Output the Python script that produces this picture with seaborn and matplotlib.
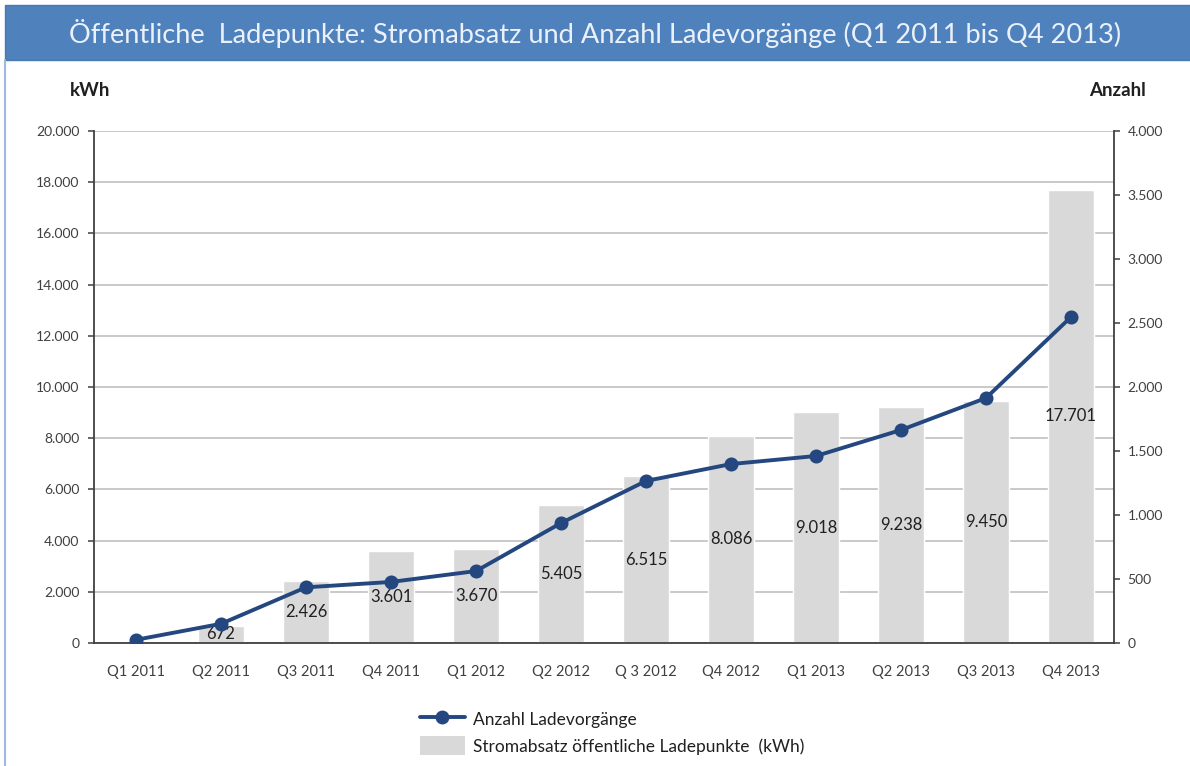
import matplotlib
matplotlib.use('Agg')
import matplotlib.pyplot as plt
import matplotlib.ticker as mticker
from matplotlib.patches import Rectangle
from matplotlib.lines import Line2D
import seaborn as sns
import pandas as pd

# data
quarters = ['Q1 2011', 'Q2 2011', 'Q3 2011', 'Q4 2011', 'Q1 2012', 'Q2 2012',
            'Q 3 2012', 'Q4 2012', 'Q1 2013', 'Q2 2013', 'Q3 2013', 'Q4 2013']
kwh = [0, 672, 2426, 3601, 3670, 5405, 6515, 8086, 9018, 9238, 9450, 17701]
ladevorgaenge = [25, 150, 435, 477, 562, 937, 1266, 1398, 1461, 1664, 1914, 2547]

title = 'Öffentliche  Ladepunkte: Stromabsatz und Anzahl Ladevorgänge (Q1 2011 bis Q4 2013)'
bar_label = 'Stromabsatz öffentliche Ladepunkte  (kWh)'
line_label = 'Anzahl Ladevorgänge'

df = pd.DataFrame({'quarter': quarters, 'kwh': kwh, 'count': ladevorgaenge})

sns.set_theme(style='white')
plt.rcParams['font.family'] = ['Lato', 'DejaVu Sans']

dark = '#404040'
navy = '#24477F'
fmt = mticker.FuncFormatter(lambda v, p: f'{v:,.0f}'.replace(',', '.'))

# Plot setup
fig = plt.figure(figsize=(11.9, 7.66), dpi=100)
ax = fig.add_axes([93.5 / 1190, 1 - 643 / 766, 1020 / 1190, 512 / 766])

# bars (kWh)
sns.barplot(data=df, x='quarter', y='kwh', color='#D9D9D9', saturation=1,
            width=0.54, ax=ax, zorder=2)
ax.bar_label(ax.containers[0],
             labels=[fmt(v, None) if v > 0 else '' for v in kwh],
             label_type='center', fontsize=12, color='#202020')

ax.set_ylim(0, 20000)
ax.set_yticks(range(0, 20001, 2000))
ax.yaxis.set_major_formatter(fmt)
ax.set_xlim(-0.5, len(quarters) - 0.5)
ax.yaxis.grid(True, color='#C0C0C0', lw=1.2)
ax.set_axisbelow(True)
ax.set_xlabel('')
ax.set_ylabel('')

# line (Anzahl)
ax2 = ax.twinx()
sns.pointplot(data=df, x='quarter', y='count', ax=ax2, color=navy,
              markers='o', markersize=8, linewidth=2.8, errorbar=None)
ax2.set_ylim(0, 4000)
ax2.set_yticks(range(0, 4001, 500))
ax2.yaxis.set_major_formatter(fmt)
ax2.set_xlim(-0.5, len(quarters) - 0.5)
ax2.set_ylabel('')
ax2.set_xlabel('')

# axes
for a in (ax, ax2):
    for s in a.spines.values():
        s.set_visible(False)
ax.spines['left'].set_visible(True)
ax.spines['bottom'].set_visible(True)
ax2.spines['right'].set_visible(True)
for s in (ax.spines['left'], ax.spines['bottom'], ax2.spines['right']):
    s.set_color(dark)
    s.set_linewidth(1.3)

ax.tick_params(axis='y', left=True, length=4, width=1.1, color=dark,
               labelsize=10, labelcolor=dark, pad=6)
ax.tick_params(axis='x', bottom=False, labelsize=10.5, labelcolor=dark, pad=10)
ax2.tick_params(axis='y', right=True, length=4, width=1.1, color=dark,
                labelsize=10, labelcolor=dark, pad=6)

# axis unit labels
fig.text(70 / 1190, 1 - 90 / 766, 'kWh', fontsize=13.5, weight='bold',
         color='#202020', va='center', ha='left')
fig.text(1146 / 1190, 1 - 90 / 766, 'Anzahl', fontsize=13.5, weight='bold',
         color='#202020', va='center', ha='right')

# title banner and left frame line
fig.add_artist(Line2D([5 / 1190, 5 / 1190], [0, 1 - 60 / 766],
                      transform=fig.transFigure, color='#9DB9DE', lw=1.5))
fig.add_artist(Rectangle((5 / 1190, 1 - 60 / 766), 1, 55 / 766,
                         transform=fig.transFigure, facecolor='#4F81BD',
                         edgecolor='#4A78B0', lw=1))
fig.text(0.5, 1 - 33 / 766, title, ha='center', va='center',
         color='#EAF1FB', fontsize=19.6)

# legend
handles = [Line2D([], [], color=navy, lw=2.8, marker='o', markersize=9),
           Rectangle((0, 0), 1, 1, facecolor='#D9D9D9', edgecolor='none')]
fig.legend(handles, [line_label, bar_label], loc='upper left',
           bbox_to_anchor=(404 / 1190, 1 - 694 / 766), frameon=False,
           fontsize=12.5, labelcolor='#202020', handlelength=2.6,
           handleheight=1.3, labelspacing=0.45, handletextpad=0.45)

fig.savefig('out.png', dpi=100)
